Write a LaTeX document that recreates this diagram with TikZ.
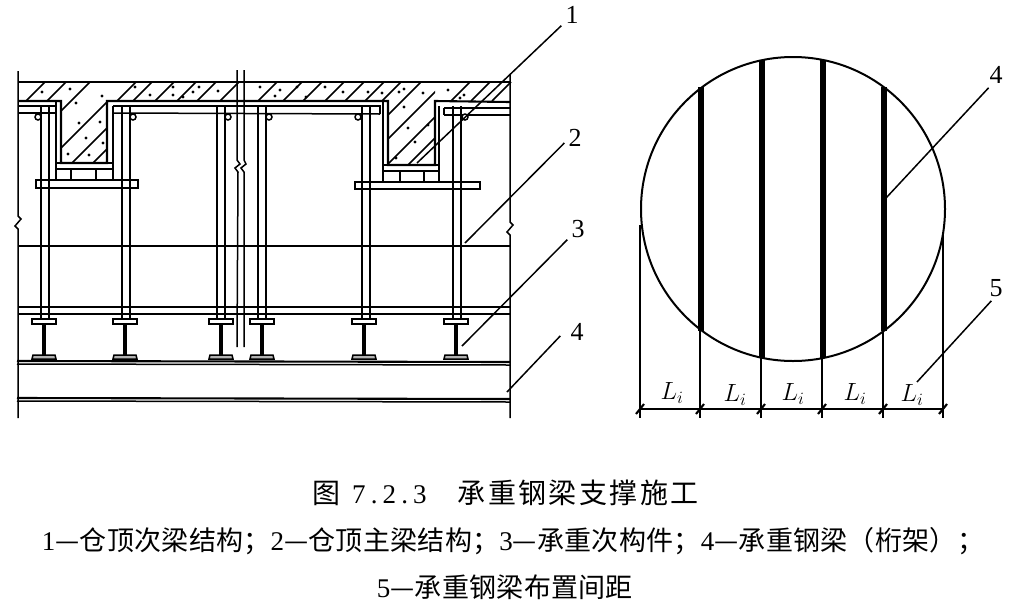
\documentclass[tikz,border=0pt]{standalone}
\usepackage{fontspec}
\setmainfont{Liberation Serif}
\newfontfamily\cjk[LetterSpace=1.1]{Noto Sans CJK SC}
\newfontfamily\cjkwide[LetterSpace=8.5]{Noto Sans CJK SC}
\newfontfamily\capnum[LetterSpace=19]{Liberation Serif}
\usetikzlibrary{positioning}
\tikzset{
	ln/.style={line width=1.5pt},
	thinln/.style={line width=1.1pt},
	thickln/.style={line width=2.1pt},
	num/.style={inner sep=4pt, font=\fontsize{26}{26}\selectfont},
	dimlab/.style={inner sep=0pt, font=\fontsize{25}{25}\selectfont},
	capt/.style={inner sep=0pt, font=\fontsize{27}{27}\selectfont\cjk}
}
\newcommand{\dg}[1]{{\rmfamily #1}}
\begin{document}
\begin{tikzpicture}[x=1pt, y=-1pt]
		\useasboundingbox (0,0) rectangle (1012,606);

		% Side walls with break marks
		\draw[ln] (18,71) -- (18,216) -- (21,219) -- (15,226) -- (18,229) -- (18,418);
		\draw[ln] (510,75) -- (510,222) -- (513,225) -- (507,232) -- (510,235) -- (510,418);

		% Concrete outline
		\draw[thickln] (18,82) -- (510,82);
		\draw[thickln] (18,101) -- (61,101) -- (61,163) -- (107,163) -- (107,101) -- (388,101) -- (388,165) -- (435,165) -- (435,101) -- (510,102);

		% Slab hatching
		\foreach \x in {26,47,117,133,155,177,197,220,258,283,303,325,345,365,382,451,471,492}
			\draw[ln] (\x,101) -- (\x+19,82);
		% Beam hatching
		\begin{scope}
			\clip (61,82) rectangle (107,163);
			\foreach \s in {172,209,235,256}
				\draw[ln] (\s-163,163) -- (\s-82,82);
		\end{scope}
		\begin{scope}
			\clip (388,82) rectangle (435,165);
			\foreach \s in {503,527,552,573}
				\draw[ln] (\s-165,165) -- (\s-82,82);
		\end{scope}
		% Aggregate dots
		\foreach \x/\y in {42/92,70/89,76/103,102/96,79/123,100/122,86/138,68/154,89/155,103/143,135/87,150/95,173/87,173/95,183/97,199/87,193/92,218/91,260/87,275/96,280/90,297/87,325/87,306/97,343/92,368/92,382/93,399/92,404/89,423/93,404/107,448/90,464/95,460/98,408/128,415/142,396/158,428/125}
			\fill (\x,\y) circle (1.7pt);

		% Forms under the slab
		\draw[ln] (18,106) -- (56,106);
		\draw[ln] (18,113) -- (56,113);
		\draw[ln] (113,106) -- (380,106) -- (380,114);
		\draw[ln] (113,113) -- (380,114);
		\draw[ln] (444,108) -- (510,108);
		\draw[ln] (444,115) -- (510,115);
		\draw[ln] (444,108) -- (444,115);

		% Left beam form
		\draw[ln] (56,101) -- (56,180);
		\draw[ln] (113,106) -- (113,180);
		\draw[ln] (56,163) rectangle (113,169);
		\draw[ln] (56,169) rectangle (113,180);
		\draw[ln] (71,169) -- (71,180);
		\draw[ln] (96,169) -- (96,180);
		\draw[ln, fill=white] (36,180) rectangle (138,188);

		% Right beam form
		\draw[ln] (383,101) -- (383,182);
		\draw[ln] (439,106) -- (439,182);
		\draw[ln] (383,165) rectangle (439,171);
		\draw[ln] (383,171) rectangle (439,182);
		\draw[ln] (400,171) -- (400,182);
		\draw[ln] (424,171) -- (424,182);
		\draw[ln, fill=white] (355,182) rectangle (480,189);

		% Props and clips
		\foreach \x/\c in {41/38,122/133,217/228,258/269,362/358,453/465}{
			\draw[ln] (\x,106) -- (\x,318);
			\draw[ln] (\x+8,106) -- (\x+8,318);
			\draw[ln, fill=white] (\c,117) circle (3pt);
		}

		% Centre pipe
		\draw[ln] (237,70) -- (237,160) -- (240,164) -- (235,168) -- (238,172) -- (237,347);
		\draw[ln] (244,70) -- (244,160) -- (246,164) -- (241,168) -- (244,172) -- (244,347);

		% Floor lines
		\draw[thinln] (18,246) -- (510,246);
		\draw[ln] (18,307) -- (510,307);
		\draw[ln] (18,314) -- (510,314);

		% I beams
		\foreach \x in {44,125,221,262,364,456}{
			\draw[ln, fill=white] (\x-12,319) rectangle (\x+12,324);
			\draw[line width=3.2pt] (\x,324) -- (\x,356);
			\draw[ln, fill=black!30] (\x-12,359) -- (\x-11,355) -- (\x+11,355) -- (\x+12,359) -- cycle;
		}

		% Main steel beam
		\draw[thickln] (17,361) -- (510,362);
		\draw[ln] (17,364) -- (510,365);
		\draw[thickln] (17,398) -- (510,399);
		\draw[ln] (17,401) -- (510,402);

		% Leaders of the section
		\node[num] (lab1) at (572,15) {1};
		\node[num] (lab2) at (575,138) {2};
		\node[num] (lab3) at (578,229) {3};
		\node[num] (lab4) at (577,332) {4};
		\coordinate (end1) at (417,163);
		\coordinate (end2) at (465,243);
		\coordinate (end3) at (462,346);
		\coordinate (end4) at (507,392);
		\draw[ln] (lab1.225) -- (end1);
		\draw[ln] (lab2.205) -- (end2);
		\draw[ln] (lab3.225) -- (end3);
		\draw[ln] ([xshift=-6pt]lab4.200) -- (end4);

		% Round detail
		\draw[line width=2pt] (793,209) circle (152pt);
		\foreach \x/\h in {701/122,762/149,823/149,884/122}
			\draw[line width=5.6pt] (\x,209-\h) -- (\x,209+\h);

		% Dimension chain
		\draw[ln] (639,409) -- (944,409);
		\draw[thinln] (640,225) -- (640,418);
		\draw[thinln] (700,331) -- (700,418);
		\draw[thinln] (761,358) -- (761,418);
		\draw[thinln] (822,358) -- (822,418);
		\draw[thinln] (883,331) -- (883,418);
		\draw[thinln] (943,235) -- (943,418);
		\foreach \x in {640,700,761,822,883,943}
			\draw[thickln] (\x-4,414) -- (\x+4,404);
		\node[dimlab] (len1) at (672,393) {$L_i$};
		\node[dimlab] (len2) at (735,395) {$L_i$};
		\node[dimlab] (len3) at (793,394) {$L_i$};
		\node[dimlab] (len4) at (855,394) {$L_i$};
		\node[dimlab] (len5) at (912,395) {$L_i$};

		% Leaders of the detail
		\node[num] (lab5) at (996,75) {4};
		\node[num] (lab6) at (996,288) {5};
		\coordinate (end5) at (886,198);
		\coordinate (end6) at (917,382);
		\draw[ln] (lab5.240) -- (end5);
		\draw[ln] (lab6.250) -- (end6);

		% Caption
		\node[inner sep=0pt, anchor=west, font=\fontsize{28}{28}\selectfont] (capA) at (312,493) {{\cjkwide 图}\hspace{12pt}{\fontsize{27}{27}\selectfont\capnum 7.2.3}\hspace{31pt}{\cjkwide 承重钢梁支撑施工}};
		\node[capt] (capB) at (513,541) {\dg{1}—仓顶次梁结构；\dg{2}—仓顶主梁结构；\dg{3}—承重次构件；\dg{4}—承重钢梁（桁架）；};
		\node[capt] (capC) at (505,587) {\dg{5}—承重钢梁布置间距};
	\end{tikzpicture}
\end{document}
